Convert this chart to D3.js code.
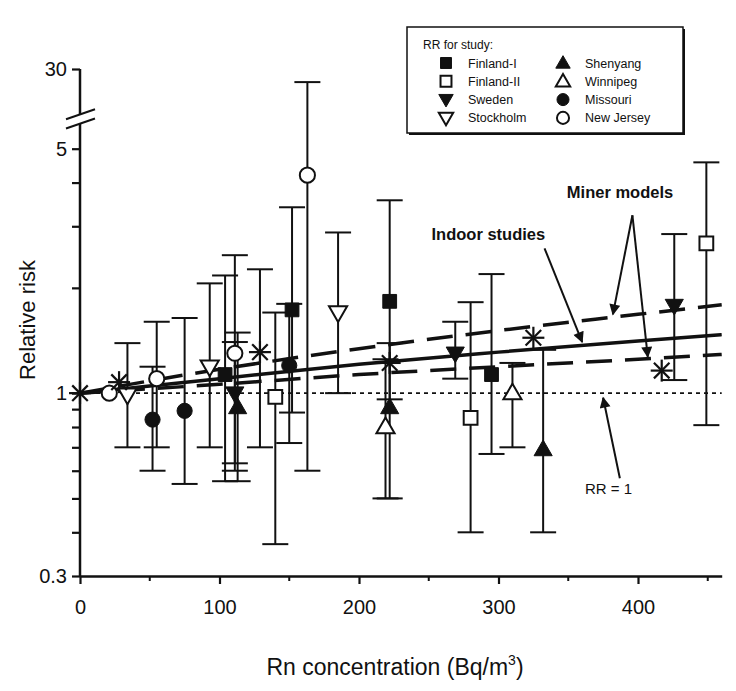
<!DOCTYPE html>
<html>
<head>
<meta charset="utf-8">
<script src="https://cdn.jsdelivr.net/npm/d3@7"></script>
<style>
  body { margin: 0; background: #fff; }
  svg text { font-family: "Liberation Sans", Arial, sans-serif; fill: #111; }
</style>
</head>
<body>
<div id="chart"></div>
<script>
//Datos: [Rn (Bq/m3), RR, límite inferior, límite superior]
const finland1 = [[104, 1.13, 0.56, 2.17], [152, 1.73, 0.88, 3.40], [222, 1.83, 0.96, 3.56], [295, 1.13, 0.67, 2.19]];
const finland2 = [[140, 0.975, 0.37, 1.70], [280, 0.85, 0.40, 1.82], [449, 2.68, 0.81, 4.57]];
const sweden = [[111, 1.00, 0.60, 1.40], [269, 1.30, 1.10, 1.60], [426, 1.78, 1.09, 2.85]];
const stockholm = [[34, 0.99, 0.70, 1.39], [93, 1.19, 0.70, 2.06], [185, 1.70, 1.00, 2.88]];
const shenyang = [[113, 0.91, 0.56, 1.49], [222, 0.91, 0.50, 1.39], [332, 0.69, 0.40, 1.33]];
const winnipeg = [[219, 0.80, 0.50, 1.25], [310, 1.00, 0.70, 1.22]];
const missouri = [[52, 0.84, 0.60, 1.19], [75, 0.89, 0.55, 1.64], [150, 1.20, 0.72, 1.80]];
const newJersey = [[21, 1.00], [55, 1.10, 0.70, 1.60], [111, 1.30, 0.63, 2.48], [163, 4.20, 0.60, 20]];
const pooled = [[0, 1], [28, 1.075], [129, 1.31, 0.70, 2.26], [222, 1.22], [325, 1.44], [417, 1.16]];

//Líneas
const indoorLine = [[0, 1], [100, 1.10], [200, 1.21], [300, 1.31], [400, 1.41], [460, 1.47]];
const minerHigh = [[0, 1], [100, 1.17], [200, 1.34], [300, 1.51], [400, 1.68], [460, 1.79]];
const minerLow = [[0, 1], [100, 1.06], [200, 1.13], [300, 1.19], [400, 1.25], [460, 1.29]];
const rrOne = [[0, 1], [460, 1]];

//Ejes
const xTicks = [0, 100, 200, 300, 400];
const xMinorTicks = [50, 150, 250, 350, 450];
const yTicks = [0.3, 0.4, 0.5, 0.6, 0.7, 0.8, 0.9, 1, 2, 3, 4, 5, 30];
const yLabels = [0.3, 1, 5, 30];
const studyNames = ['Finland-I', 'Finland-II', 'Sweden', 'Stockholm', 'Shenyang', 'Winnipeg', 'Missouri', 'New Jersey'];
const studyData = [finland1, finland2, sweden, stockholm, shenyang, winnipeg, missouri, newJersey];

//Estilo de cada estudio
const SHAPES = {
    'Finland-I': { type: 'square', filled: true },
    'Finland-II': { type: 'square', filled: false },
    'Sweden': { type: 'down', filled: true },
    'Stockholm': { type: 'down', filled: false },
    'Shenyang': { type: 'up', filled: true },
    'Winnipeg': { type: 'up', filled: false },
    'Missouri': { type: 'circle', filled: true },
    'New Jersey': { type: 'circle', filled: false }
};
const INK = '#111';

const width = 736, height = 691;

let svg = d3.select('#chart').append('svg')
    .attr('width', width)
    .attr('height', height);

let x = d3.scaleLinear().domain([0, 460]).range([80, 721.7]);
//escala log con corte entre 6 y 30
let y = d3.scaleLog().domain([0.3, 6, 30]).range([576, 121, 69]);

let defs = svg.append('defs');
defs.append('marker')
    .attr('id', 'arrow')
    .attr('viewBox', '0 0 10 10')
    .attr('refX', 9).attr('refY', 5)
    .attr('markerWidth', 13).attr('markerHeight', 11)
    .attr('markerUnits', 'userSpaceOnUse')
    .attr('orient', 'auto')
    .append('path')
    .attr('d', 'M0,0 L10,5 L0,10 Z')
    .attr('fill', INK);

function symbolPath(type, size) {
    if (type == 'square') return d3.symbol(d3.symbolSquare, size * 1.0)();
    if (type == 'circle') return d3.symbol(d3.symbolCircle, size * 0.95)();
    return d3.symbol(d3.symbolTriangle, size * 0.75)();
}

function drawSymbol(g, name, px, py, size) {
    let s = SHAPES[name];
    let rot = s.type == 'down' ? 180 : 0;
    let dy = s.type == 'down' ? -1 : (s.type == 'up' ? 1 : 0);
    g.append('path')
        .attr('d', symbolPath(s.type, size))
        .attr('transform', 'translate(' + px + ',' + (py + dy) + ') rotate(' + rot + ')')
        .attr('fill', s.filled ? INK : '#fff')
        .attr('stroke', INK)
        .attr('stroke-width', s.filled ? 1 : 2);
}

//Líneas del modelo
let line = d3.line()
    .x(function(d) { return x(d[0]); })
    .y(function(d) { return y(d[1]); })
    .curve(d3.curveMonotoneX);

let lines = svg.append('g').attr('fill', 'none').attr('stroke', INK);
lines.append('path').datum(rrOne).attr('d', line)
    .attr('stroke-width', 1.8).attr('stroke-dasharray', '4,4');
lines.append('path').datum(minerHigh).attr('d', line)
    .attr('stroke-width', 3.5).attr('stroke-dasharray', '26,13');
lines.append('path').datum(minerLow).attr('d', line)
    .attr('stroke-width', 3.5).attr('stroke-dasharray', '26,13');
lines.append('path').datum(indoorLine).attr('d', line)
    .attr('stroke-width', 3.5);

//Barras de error
let bars = svg.append('g').attr('stroke', INK).attr('stroke-width', 2);
function drawBars(data) {
    data.filter(function(d) { return d.length == 4; }).forEach(function(d) {
        let px = x(d[0]);
        bars.append('line').attr('x1', px).attr('x2', px).attr('y1', y(d[2])).attr('y2', y(d[3]));
        [d[2], d[3]].forEach(function(v) {
            bars.append('line').attr('x1', px - 13).attr('x2', px + 13).attr('y1', y(v)).attr('y2', y(v));
        });
    });
}
studyData.forEach(drawBars);
drawBars(pooled);

//Símbolos
let marks = svg.append('g');
studyNames.forEach(function(name, i) {
    studyData[i].forEach(function(d) {
        drawSymbol(marks, name, x(d[0]), y(d[1]), 190);
    });
});

//Estimaciones combinadas (asteriscos)
let stars = svg.append('g').attr('stroke', INK).attr('stroke-width', 2.2);
pooled.forEach(function(d) {
    let px = x(d[0]), py = y(d[1]);
    [0, 45, 90, 135].forEach(function(a) {
        stars.append('line')
            .attr('x1', -11).attr('x2', 11).attr('y1', 0).attr('y2', 0)
            .attr('transform', 'translate(' + px + ',' + py + ') rotate(' + a + ')');
    });
});

//Eje X
let xAxis = svg.append('g')
    .attr('transform', 'translate(0,' + y(0.3) + ')')
    .call(d3.axisBottom(x).tickValues(xTicks).tickSize(8).tickSizeOuter(0).tickPadding(16));
xAxis.select('.domain').attr('stroke-width', 2.5).attr('stroke', INK);
xAxis.selectAll('.tick line').attr('stroke-width', 2.2).attr('stroke', INK);
xAxis.selectAll('.tick text').attr('font-size', 20).attr('fill', INK);
xAxis.selectAll('.minor')
    .data(xMinorTicks)
    .enter()
    .append('line')
    .attr('x1', function(d) { return x(d); })
    .attr('x2', function(d) { return x(d); })
    .attr('y1', 0).attr('y2', 5)
    .attr('stroke', INK).attr('stroke-width', 2);

//Eje Y
let yAxis = svg.append('g')
    .attr('transform', 'translate(' + x(0) + ',0)')
    .call(d3.axisLeft(y).tickValues(yTicks).tickSize(8).tickPadding(5)
        .tickFormat(function(d) { return yLabels.indexOf(d) >= 0 ? String(d) : ''; }));
yAxis.select('.domain').remove();
yAxis.selectAll('.tick line').attr('stroke-width', 2.2).attr('stroke', INK);
yAxis.selectAll('.tick text').attr('font-size', 20).attr('fill', INK);

const breakLow = 5.9, breakHigh = 7.4;
yAxis.append('line').attr('x1', 0).attr('x2', 0).attr('y1', y(0.3)).attr('y2', y(breakLow))
    .attr('stroke', INK).attr('stroke-width', 2.5);
yAxis.append('line').attr('x1', 0).attr('x2', 0).attr('y1', y(breakHigh)).attr('y2', y(30))
    .attr('stroke', INK).attr('stroke-width', 2.5);
[breakLow, breakHigh].forEach(function(v) {
    yAxis.append('line')
        .attr('x1', -14).attr('x2', 15)
        .attr('y1', y(v) + 5).attr('y2', y(v) - 5)
        .attr('stroke', INK).attr('stroke-width', 2);
});

//Títulos de ejes
svg.append('text')
    .attr('transform', 'translate(35,' + 320 + ') rotate(-90)')
    .attr('text-anchor', 'middle')
    .attr('font-size', 22)
    .text('Relative risk');

let xl = svg.append('text')
    .attr('x', 395).attr('y', 675)
    .attr('text-anchor', 'middle')
    .attr('font-size', 23);
xl.append('tspan').text('Rn concentration (Bq/m');
xl.append('tspan').attr('dy', -10).attr('font-size', 14).text('3');
xl.append('tspan').attr('dy', 10).text(')');

//Anotaciones
let notes = svg.append('g');
notes.append('text').attr('x', x(252)).attr('y', y(2.74))
    .attr('font-size', 16.5).attr('font-weight', 'bold').text('Indoor studies');
notes.append('text').attr('x', x(349)).attr('y', y(3.61))
    .attr('font-size', 16.5).attr('font-weight', 'bold').text('Miner models');
notes.append('text').attr('x', x(362)).attr('y', y(0.514))
    .attr('font-size', 15).text('RR = 1');

function arrow(from, to) {
    notes.append('line')
        .attr('x1', x(from[0])).attr('y1', y(from[1]))
        .attr('x2', x(to[0])).attr('y2', y(to[1]))
        .attr('stroke', INK).attr('stroke-width', 2)
        .attr('marker-end', 'url(#arrow)');
}
arrow([333, 2.595], [360, 1.40]);
arrow([396, 3.225], [382, 1.68]);
arrow([396, 3.225], [407, 1.27]);
arrow([387, 0.571], [375, 0.97]);

//Leyenda
let legend = svg.append('g').attr('transform', 'translate(407,27)');
legend.append('rect').attr('x', 2).attr('y', 2).attr('width', 276).attr('height', 106).attr('fill', INK);
legend.append('rect').attr('width', 276).attr('height', 106)
    .attr('fill', '#fff').attr('stroke', INK).attr('stroke-width', 1.5);
legend.append('text').attr('x', 16).attr('y', 22).attr('font-size', 12).text('RR for study:');
studyNames.forEach(function(name, i) {
    let col = Math.floor(i / 4), row = i % 4;
    let sx = 39 + col * 117, sy = 36 + row * 18.3;
    drawSymbol(legend, name, sx, sy, 120);
    legend.append('text').attr('x', sx + 22).attr('y', sy + 4.5)
        .attr('font-size', 12.5).text(name);
});
</script>
</body>
</html>
